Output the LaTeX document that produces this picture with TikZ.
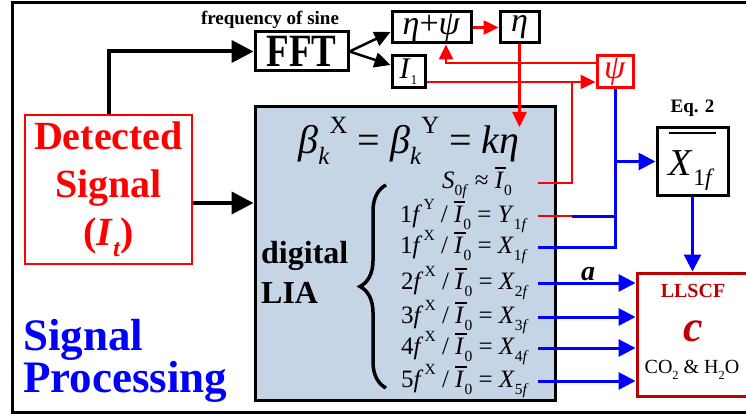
\documentclass[tikz,border=0pt]{standalone}
\usepackage{fontspec}
\setmainfont{Liberation Serif}
\usepackage{graphicx}
\usetikzlibrary{arrows.meta,decorations.pathreplacing,calc}
\definecolor{liafill}{RGB}{197,213,230}
\definecolor{dred}{RGB}{192,0,0}
\newcommand\fsz[1]{\fontsize{#1}{#1}\selectfont}
\newcommand\sbx[1]{\raisebox{-0.28em}{\scalebox{0.62}{#1}}}
\newcommand\spx[1]{\raisebox{0.5em}{\scalebox{0.62}{#1}}}
\newcommand\obar[1]{\vbox{\hrule height 0.06em\kern 0.12em\hbox{#1}}}
\newcommand\Ibar{\obar{\textit{I}\kern0.08em}\kern-0.08em\sbx{0}}
\newcommand\eqrow[2]{#1\textit{f}\kern0.05em\spx{#2} / \Ibar{} = \textit{#2}\sbx{#1\textit{f}}}
\begin{document}
\begin{tikzpicture}[x=1pt,y=-1pt,
  blkbox/.style={draw=black,line width=3pt,inner sep=0pt},
  blkarr/.style={line width=4pt,-{Triangle[length=22pt,width=22pt]}},
  tharr/.style={line width=2.5pt,-{Triangle[length=16pt,width=15pt]}},
  redarr/.style={draw=red,line width=2.5pt,-{Triangle[length=15pt,width=14pt]}},
  redline/.style={draw=red,line width=2.5pt},
  bluline/.style={draw=blue,line width=3pt},
  bluarr/.style={draw=blue,line width=3pt,-{Triangle[length=17pt,width=17pt]}},
  eqn/.style={anchor=east,inner sep=0pt,font=\fsz{25}}]
\useasboundingbox (0,0) rectangle (746,414);
\fill[white] (0,0) rectangle (746,414);
\draw[line width=3pt] (12,3) rectangle (775,412);
% top row
\node[font=\bfseries\fsz{19},inner sep=0pt] (freq) at (270,20) {frequency of sine};
\node[blkbox,minimum width=93,minimum height=39] (fft) at (301.5,51.5) {\fsz{37}\bfseries\scalebox{1}[1.25]{FFT}};
\node[blkbox,minimum width=79,minimum height=31] (ep) at (431.5,27.5) {\fsz{34}\textit{η}+\textit{ψ}};
\node[blkbox,minimum width=39,minimum height=31] (eta) at (519.5,27.5) {\fsz{34}\textit{η}};
\node[blkbox,minimum width=33,minimum height=32] (i1) at (408.5,72) {\fsz{30}\textit{I}\raisebox{-0.2em}{\scalebox{0.45}{1}}};
\node[draw=red,line width=3pt,inner sep=0pt,minimum width=36,minimum height=32,text=red] (psi) at (615,72) {\fsz{34}\textit{ψ}};
% detected signal
\node[draw=red,line width=2.5pt,minimum width=167,minimum height=149,align=center,text=red,
  font=\bfseries\fontsize{40}{48}\selectfont] (det) at (108.5,189.5) {Detected\\Signal\\(\textit{I}\sbx{\textit{t}})};
\node[anchor=west,align=left,inner sep=0pt,text=blue,font=\bfseries\fontsize{45}{35}\selectfont] (sp) at (23,361) {Signal\\Processing};
% LIA
\node[draw=black,line width=3pt,fill=liafill,minimum width=300,minimum height=293] (lia) at (405,253.5) {};
\node[inner sep=0pt,font=\fsz{40}] (beta) at (409,141) {\textit{β}\sbx{\textit{k}}\spx{X} = \textit{β}\sbx{\textit{k}}\spx{Y} = \textit{kη}};
\node[anchor=west,align=left,inner sep=0pt,font=\bfseries\fontsize{32}{40}\selectfont] (dl) at (261,272) {digital\\LIA};
\draw[line width=3.5pt,decorate,decoration={brace,amplitude=26pt}] (386,388) -- (386,185);
\node[eqn] (e0) at (512,183) {\textit{S}\sbx{0\textit{f}} ≈ \Ibar};
\node[eqn] (e1) at (528,216) {\eqrow{1}{Y}};
\node[eqn] (e2) at (528,247) {\eqrow{1}{X}};
\node[eqn] (e3) at (529,283) {\eqrow{2}{X}};
\node[eqn] (e4) at (529,317) {\eqrow{3}{X}};
\node[eqn] (e5) at (529,348) {\eqrow{4}{X}};
\node[eqn] (e6) at (529,381) {\eqrow{5}{X}};
% right side
\node[blkbox,minimum width=71,minimum height=67] (x1f) at (692.5,161.5) {\fsz{38}\obar{\rule{0pt}{0.95em}\textit{X}\sbx{1\textit{f}}\kern0.05em}};
\node[anchor=south,inner sep=0pt,font=\bfseries\fsz{19}] (eq2) at ([yshift=10]x1f.north) {Eq. 2};
\node[draw=dred,line width=3pt,minimum width=112,minimum height=123] (ll) at (693,334.5) {};
\node[text=dred,inner sep=0pt,font=\bfseries\fsz{20}] (lltxt) at (693,291) {LLSCF};
\node[text=dred,inner sep=0pt,font=\bfseries\itshape\fsz{44}] (ctxt) at (693,331) {c};
\node[inner sep=0pt,font=\fsz{20}] (co) at (692,370) {CO\sbx{2} \& H\sbx{2}O};
\node[inner sep=0pt,font=\bfseries\itshape\fsz{28}] (alab) at (588,274) {a};
\coordinate (ls) at (538,0);
\coordinate (rx) at (572,0);
\coordinate (etatip) at (519.5,127);
% black connectors
\draw[blkarr] (det.north) |- (fft.west);
\draw[blkarr] ([yshift=-13.5]det.east) -- ([yshift=-13.5]det.east -| lia.west);
\draw[tharr] (fft.east) -- ([yshift=-4.5]ep.west);
\draw[tharr] (fft.east) -- ([yshift=7]i1.west);
% red connectors
\draw[redarr] (ep.east) -- (eta.west);
\draw[redarr] ([yshift=9]psi.west) -| ([xshift=14.5]ep.south);
\draw[redarr] ([yshift=-10]i1.east) -- ([yshift=-10]psi.west);
\draw[redarr] (eta.south) -- (etatip);
\draw[redline] (e0.east -| ls) -| ([yshift=-10]i1.east -| rx);
\draw[redline] (e1.east -| ls) -- (e1.east -| rx);
% blue connectors
\draw[bluline] (e1.east -| rx) -- (e1.east -| psi.south);
\draw[bluline] (psi.south) -- (psi.south |- e2.east) -- (e2.east -| ls);
\draw[bluarr] (psi.south |- x1f.west) -- (x1f.west);
\draw[bluarr] (x1f.south) -- (x1f.south |- ll.north);
\foreach \e in {e3,e4,e5,e6} \draw[bluarr] (\e.east -| ls) -- (\e.east -| ll.west);
\end{tikzpicture}
\end{document}
